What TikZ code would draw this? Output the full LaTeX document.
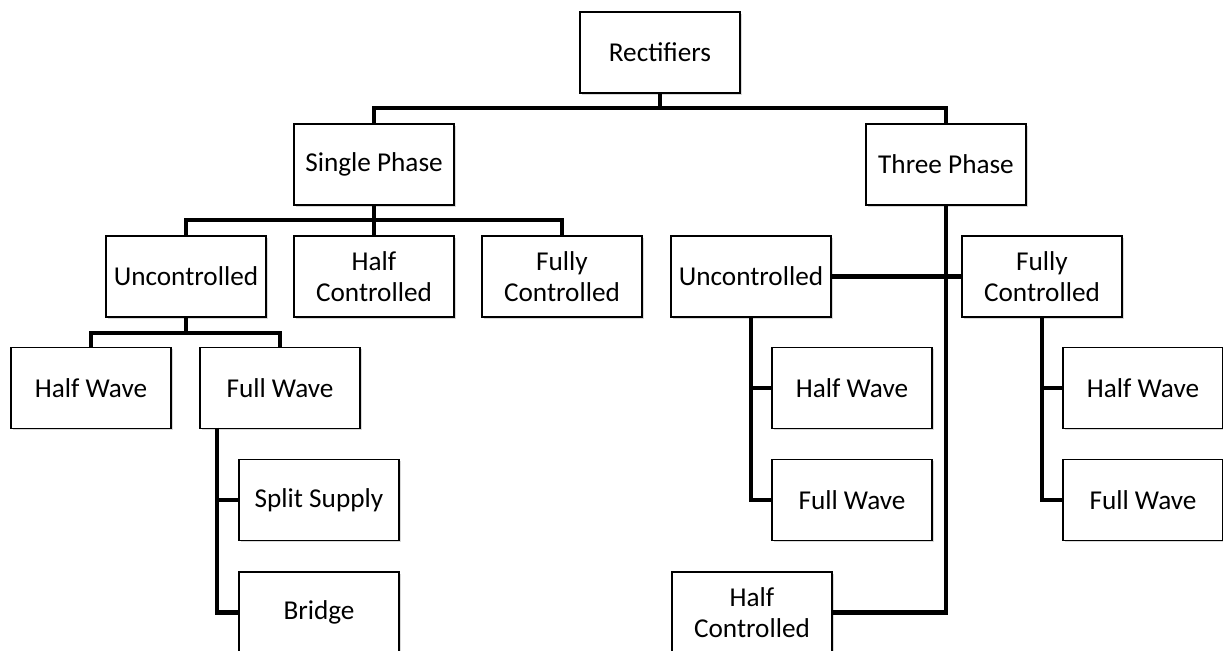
\documentclass[tikz,border=0pt]{standalone}
\usepackage{fontspec}
\setmainfont{Carlito}
\usetikzlibrary{shadows}

\begin{document}
\begin{tikzpicture}[x=0.02cm, y=-0.02cm,
  every node/.style={font=\fontsize{15.5}{17.5}\selectfont},
  box/.style={draw, line width=1.1pt, fill=white, align=center,
    minimum width=3.2cm, minimum height=1.62cm, inner sep=2pt,
    drop shadow={shadow xshift=1pt, shadow yshift=-1pt, opacity=.3}},
  link/.style={line width=2.6pt, line join=miter}]
  \useasboundingbox (0,0) rectangle (1223,651);

  \coordinate (TOPBAR) at (660,108);
  \coordinate (SPBAR)  at (374,220);
  \coordinate (UCBAR)  at (186,333);
  \coordinate (FWTOP)  at (217,428);

  % level 1 and 2
  \node[box] (rect)  at (660,52.5)  {Rectifiers};
  \node[box] (sp)    at (374,164.5) {Single Phase};
  \node[box] (tp)    at (946,164.5) {Three Phase};

  % single phase
  \node[box] (spunc) at (186,276.5) {Uncontrolled};
  \node[box] (sphc)  at (374,276.5) {Half\\Controlled};
  \node[box] (spfc)  at (562,276.5) {Fully\\Controlled};
  \node[box] (sphw)  at (91,388)    {Half Wave};
  \node[box] (spfw)  at (280,388)   {Full Wave};
  \node[box] (split) at (319,500)   {Split Supply};
  \node[box] (brdg)  at (319,612.5) {Bridge};

  % three phase
  \node[box] (tpunc) at (751,276.5)  {Uncontrolled};
  \node[box] (tpfc)  at (1042,276.5) {Fully\\Controlled};
  \node[box] (tphw)  at (852,388)    {Half Wave};
  \node[box] (tpfw)  at (852,500)    {Full Wave};
  \node[box] (tphc)  at (752,612.5)  {Half\\Controlled};
  \node[box] (fchw)  at (1143,388)   {Half Wave};
  \node[box] (fcfw)  at (1143,500)   {Full Wave};

  \draw[link] (rect.south) -- (TOPBAR) -| (sp.north);
  \draw[link] (TOPBAR) -| (tp.north);

  \draw[link] (sp.south) -- (SPBAR) -| (spunc.north);
  \draw[link] (SPBAR) -- (sphc.north);
  \draw[link] (SPBAR) -| (spfc.north);
  \draw[link] (spunc.south) -- (UCBAR) -| (sphw.north);
  \draw[link] (UCBAR) -| (spfw.north);
  \draw[link] (FWTOP) |- (split.west);
  \draw[link] (FWTOP) |- (brdg.west);

  \draw[link] (tp.south) |- (tphc.east);
  \draw[link] (tpunc.east) -- (tpfc.west);
  \draw[link] (tpunc.south) |- (tphw.west);
  \draw[link] (tpunc.south) |- (tpfw.west);
  \draw[link] (tpfc.south) |- (fchw.west);
  \draw[link] (tpfc.south) |- (fcfw.west);
\end{tikzpicture}
\end{document}
